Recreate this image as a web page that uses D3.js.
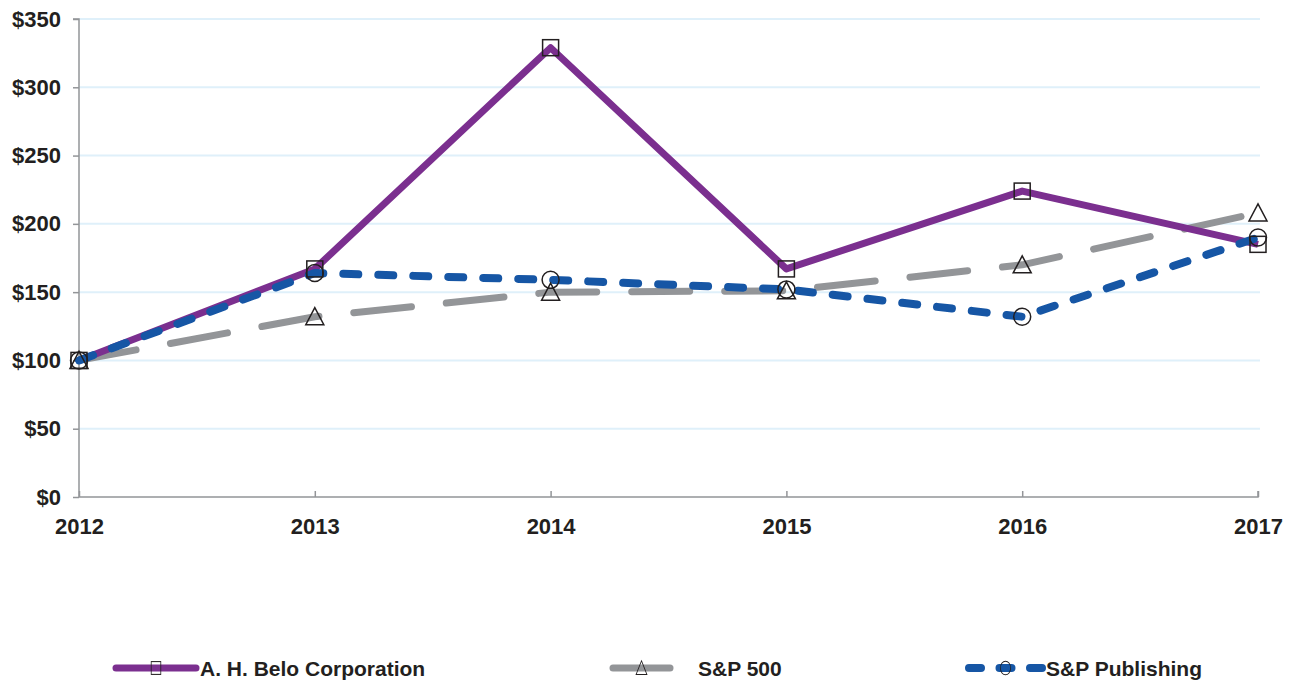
<!DOCTYPE html>
<html>
<head>
<meta charset="utf-8">
<script src="https://cdn.jsdelivr.net/npm/d3@7"></script>
<style>
  body { margin: 0; background: #fff; }
  svg { display: block; font-family: "Liberation Sans", Arial, sans-serif; font-weight: bold; }
</style>
</head>
<body>
<svg id="chart"></svg>
<script>
// Data
const years = ['2012', '2013', '2014', '2015', '2016', '2017'];
const aHBelo = [100, 167, 329, 167, 224, 185];
const sp500 = [100, 132, 150, 151, 170, 208];
const spPublishing = [100, 164, 159, 152, 132, 190];
const yTicks = [0, 50, 100, 150, 200, 250, 300, 350];

const width = 1297;
const height = 681;

const svg = d3.select('#chart')
  .attr('width', width)
  .attr('height', height);

const x = d3.scalePoint()
  .domain(years)
  .range([79, 1258]);

const y = d3.scaleLinear()
  .domain([0, 350])
  .range([497, 19]);

// Gridlines
svg.append('g')
  .selectAll('line')
  .data(yTicks.filter(d => d > 0))
  .join('line')
  .attr('x1', 79)
  .attr('x2', 1260)
  .attr('y1', d => y(d))
  .attr('y2', d => y(d))
  .attr('stroke', '#dff0fa')
  .attr('stroke-width', 2);

// Axes
const yAxis = svg.append('g')
  .attr('transform', 'translate(79,0)')
  .call(d3.axisLeft(y).tickValues(yTicks).tickSize(6).tickPadding(12).tickFormat(d => '$' + d));

const xAxis = svg.append('g')
  .attr('transform', `translate(0,${y(0)})`)
  .call(d3.axisBottom(x).tickSize(-6).tickPadding(20));

[yAxis, xAxis].forEach(a => {
  a.select('.domain').attr('stroke', '#939598').attr('stroke-width', 1.5);
  a.selectAll('.tick line').attr('stroke', '#939598').attr('stroke-width', 1.5);
  a.selectAll('.tick text')
    .attr('fill', '#231f20')
    .attr('font-size', 22)
    .attr('font-weight', 'bold')
    .attr('font-family', '"Liberation Sans", Arial, sans-serif');
});
yAxis.select('.domain').attr('d', `M-6,${y(350)}H0V${y(0)}`);
xAxis.select('.domain').attr('d', `M${x('2012')},0H${x('2017')}V-6`);
xAxis.selectAll('.tick text').attr('dy', '0.75em');

const series = [
  { name: 'A. H. Belo Corporation', values: aHBelo, color: '#7b2f8f', width: 7, dash: null, legendDash: null, marker: 'square', lx: 116, lx2: 196, tx: 200 },
  { name: 'S&P 500', values: sp500, color: '#939598', width: 7, dash: '58,35', legendDash: null, marker: 'triangle', lx: 613, lx2: 670, tx: 698 },
  { name: 'S&P Publishing', values: spPublishing, color: '#1656a5', width: 8, dash: '15,20', legendDash: '12,18.5', marker: 'circle', lx: 969, lx2: 1042, tx: 1046 },
];

const line = d3.line()
  .x((d, i) => x(years[i]))
  .y(d => y(d));

function drawMarker(g, type, cx, cy) {
  if (type === 'square') {
    g.append('rect')
      .attr('x', cx - 8).attr('y', cy - 8)
      .attr('width', 16).attr('height', 16);
  } else if (type === 'triangle') {
    g.append('path')
      .attr('d', `M${cx},${cy - 9}L${cx + 9},${cy + 8}L${cx - 9},${cy + 8}Z`);
  } else {
    g.append('circle').attr('cx', cx).attr('cy', cy).attr('r', 8.5);
  }
}

// Lines (S&P 500 underneath)
[series[1], series[0], series[2]].forEach(s => {
  svg.append('path')
    .datum(s.values)
    .attr('fill', 'none')
    .attr('stroke', s.color)
    .attr('stroke-width', s.width)
    .attr('stroke-linecap', s.dash ? 'round' : 'butt')
    .attr('stroke-linejoin', 'round')
    .attr('stroke-dasharray', s.dash)
    .attr('d', line);
});

// Markers
series.forEach(s => {
  const g = svg.append('g')
    .attr('fill', 'none')
    .attr('stroke', '#231f20')
    .attr('stroke-width', 1.5);
  s.values.forEach((v, i) => drawMarker(g, s.marker, x(years[i]), y(v)));
});

// Legend
const ly = 668;
series.forEach(s => {
  const g = svg.append('g');
  g.append('line')
    .attr('x1', s.lx).attr('x2', s.lx2)
    .attr('y1', ly).attr('y2', ly)
    .attr('stroke', s.color)
    .attr('stroke-width', s.width)
    .attr('stroke-linecap', 'round')
    .attr('stroke-dasharray', s.legendDash);
  const mg = g.append('g')
    .attr('fill', 'none')
    .attr('stroke', '#231f20')
    .attr('stroke-width', 1.3)
    .attr('transform', `translate(${(s.lx + s.lx2) / 2},${ly}) scale(0.6,0.8)`);
  drawMarker(mg, s.marker, 0, 0);
  g.append('text')
    .attr('x', s.tx)
    .attr('y', ly + 8)
    .attr('fill', '#231f20')
    .attr('font-size', 21)
    .text(s.name);
});
</script>
</body>
</html>
